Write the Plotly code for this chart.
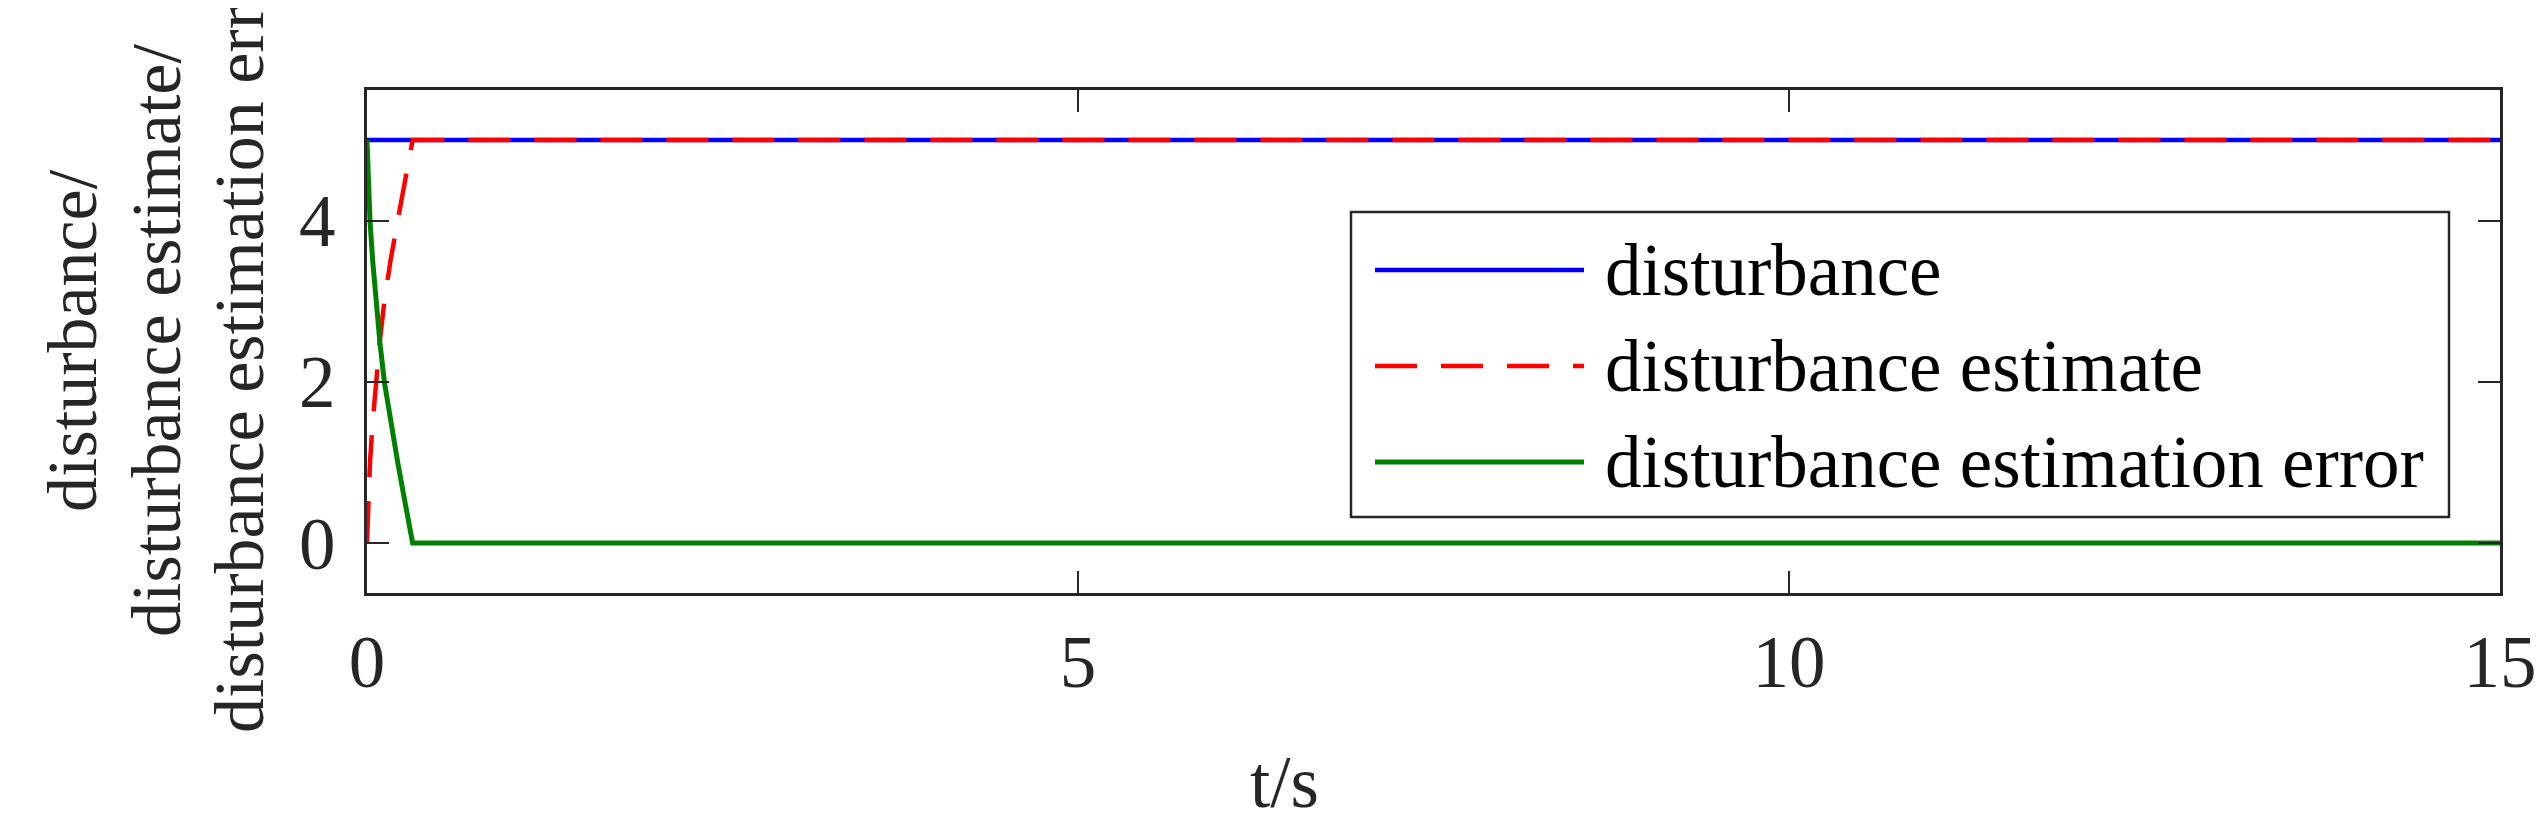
import plotly.graph_objects as go

# time axis / signals
t_dist = [0, 15]
dist = [5, 5]

t_est = [0, 0.010, 0.021, 0.040, 0.063, 0.090, 0.122, 0.165, 0.216, 0.268, 0.321, 15]
est = [0, 0.5, 1.0, 1.5, 2.0, 2.5, 3.0, 3.5, 4.0, 4.5, 5.0, 5.0]

t_err = [0, 0.010, 0.021, 0.040, 0.063, 0.090, 0.122, 0.165, 0.216, 0.268, 0.321, 15]
err = [5, 4.5, 4.0, 3.5, 3.0, 2.5, 2.0, 1.5, 1.0, 0.5, 0, 0]

names = ["disturbance", "disturbance estimate", "disturbance estimation error"]
ylabel_lines = ["disturbance/", "disturbance estimate/", "disturbance estimation error"]
xticks = [0, 5, 10, 15]
yticks = [0, 2, 4]

W, H = 2548, 817
L, R, T, B = 359, 2492, 82, 585
FONT = "Liberation Serif, Times New Roman, serif"
AX = "#262626"


def px(x):
    return (x - L) / (R - L)


def py(y):
    return (B - y) / (B - T)


fig = go.Figure()
fig.add_trace(go.Scatter(x=t_dist, y=dist, mode="lines", name=names[0],
                         line=dict(color="#0000FF", width=4.5), showlegend=False))
fig.add_trace(go.Scatter(x=t_est, y=est, mode="lines", name=names[1],
                         line=dict(color="#FF0000", width=4.5, dash="42px,24px"), showlegend=False))
fig.add_trace(go.Scatter(x=t_err, y=err, mode="lines", name=names[2],
                         line=dict(color="#008000", width=5), showlegend=False))

axis_common = dict(showline=True, mirror="ticks", linecolor=AX, linewidth=3,
                   ticks="inside", ticklen=22, tickwidth=2, tickcolor=AX,
                   showgrid=False, zeroline=False,
                   tickfont=dict(family=FONT, size=73, color=AX))

fig.update_xaxes(range=[0, 15], tickvals=xticks, ticklabelstandoff=3, **axis_common)
fig.update_yaxes(range=[-0.62, 5.62], tickvals=yticks, ticklabelstandoff=14, **axis_common)

# y label, three stacked rotated lines
for i, (txt, bx) in enumerate(zip(ylabel_lines, [64, 148, 231])):
    fig.add_annotation(text=txt, xref="paper", yref="paper", x=px(bx), y=py(333),
                       xanchor="center", yanchor="middle", textangle=-90, showarrow=False,
                       font=dict(family=FONT, size=70, color=AX))

# x label
fig.add_annotation(text="t/s", xref="paper", yref="paper", x=px(1276), y=py(774),
                   xanchor="center", yanchor="middle", showarrow=False,
                   font=dict(family=FONT, size=73, color=AX))

# legend box drawn by hand (long sample lines like the original)
fig.add_shape(type="rect", xref="paper", yref="paper",
              x0=px(1343), x1=px(2441), y0=py(509), y1=py(204),
              line=dict(color=AX, width=2.5), fillcolor="white", layer="above")
leg_y = [262, 358, 454]
leg_styles = [dict(color="#0000FF", width=4.5),
              dict(color="#FF0000", width=4.5, dash="42px,24px"),
              dict(color="#008000", width=5)]
for name, ly, st in zip(names, leg_y, leg_styles):
    fig.add_shape(type="line", xref="paper", yref="paper",
                  x0=px(1367), x1=px(1576), y0=py(ly), y1=py(ly), line=st, layer="above")
    fig.add_annotation(text=name, xref="paper", yref="paper", x=px(1595), y=py(ly),
                       xanchor="left", yanchor="middle", showarrow=False,
                       font=dict(family=FONT, size=73, color="black"))

fig.update_layout(width=W, height=H, margin=dict(l=L, r=W - R, t=T, b=H - B),
                  plot_bgcolor="white", paper_bgcolor="white", showlegend=False)

fig.write_html("out.html")
